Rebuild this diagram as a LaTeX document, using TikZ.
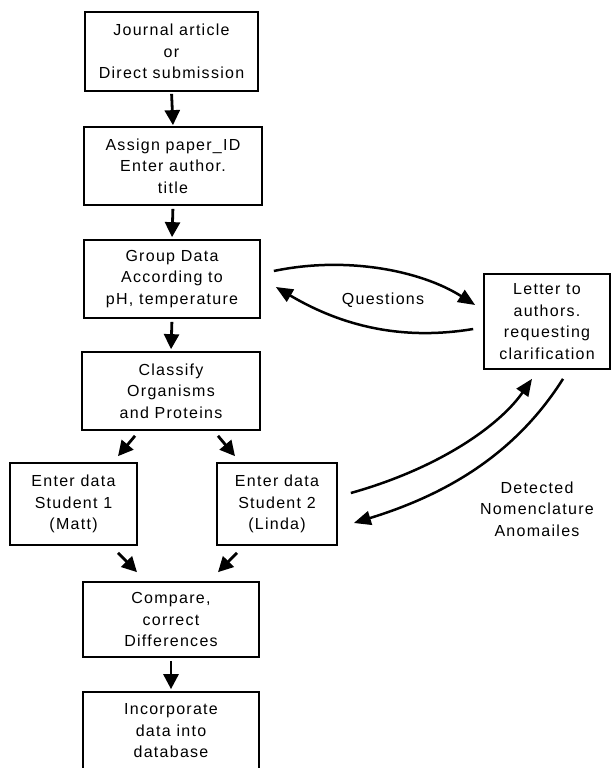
\documentclass[tikz,border=0pt]{standalone}
\usepackage{fontspec}
\setmainfont{Liberation Sans}[LetterSpace=8]
\usetikzlibrary{arrows.meta,calc}
\begin{document}
\begin{tikzpicture}[x=1pt,y=1pt,
  every node/.style={font=\fontsize{16}{21.5}\selectfont},
  box/.style={draw,line width=1.7pt,align=center,inner sep=0pt},
  arr/.style={line width=2.8pt,-{Triangle[length=15pt,width=15pt]}},
  carr/.style={line width=2.5pt,-{Triangle[length=17pt,width=14pt]}}]
\useasboundingbox (0,0) rectangle (611,-768);
\node[box,minimum width=173,minimum height=79] (j) at (171.5,-51.5) {Journal article\\or\\Direct submission};
\node[box,minimum width=178,minimum height=78] (a) at (173,-166) {Assign paper\_ID\\Enter author.\\title};
\node[box,minimum width=176,minimum height=78] (g) at (172,-279) {Group Data\\According to\\pH, temperature};
\node[box,minimum width=178,minimum height=78] (c) at (171,-391) {Classify\\Organisms\\and Proteins};
\node[box,minimum width=127,minimum height=82] (s1) at (73.5,-504) {Enter data\\Student 1\\(Matt)};
\node[box,minimum width=120,minimum height=82] (s2) at (277,-504) {Enter data\\Student 2\\(Linda)};
\node[box,minimum width=176,minimum height=75] (cmp) at (171,-619.5) {Compare,\\correct\\Differences};
\node[box,minimum width=176,minimum height=78] (inc) at (171,-731) {Incorporate\\data into\\database};
\node[box,minimum width=126,minimum height=95] (let) at (547,-321.5) {Letter to\\authors.\\requesting\\clarification};
\node (q) at (383,-300) {Questions};
\node[align=center] (d) at (537,-509) {Detected\\Nomenclature\\Anomailes};
% vertical arrows
\draw[arr,shorten <=2pt,shorten >=1pt] (j.south) -- (a.north);
\draw[arr,shorten <=3pt,shorten >=2pt] (a.south) -- (g.north);
\draw[arr,shorten <=3pt,shorten >=2pt] (g.south) -- (c.north);
\draw[arr,shorten <=3pt,shorten >=2pt] (cmp.south) -- (inc.north);
% diagonal arrows
\draw[arr] ($(c.south)+(-36,-5)$) -- ($(s1.north)+(44.5,6)$);
\draw[arr] ($(c.south)+(47,-5)$) -- ($(s2.north)+(-42,6)$);
\draw[arr] ($(s1.south)+(44.5,-7)$) -- ($(cmp.north)+(-34,9)$);
\draw[arr] ($(s2.south)+(-40,-7)$) -- ($(cmp.north)+(47,9)$);
% questions loop
\draw[carr] ($(g.east)+(13,8)$) .. controls (345,-256) and (420,-270) .. ($(let.west)+(-8,16.5)$);
\draw[carr] ($(let.west)+(-10,-7.5)$) .. controls (395,-342) and (335,-322) .. ($(g.east)+(15,-8)$);
% nomenclature loop
\draw[carr] ($(s2.east)+(13,11)$) .. controls (440,-468) and (500,-425) .. ($(let.south)+(-15,-9)$);
\draw[carr] ($(let.south)+(16,-9)$) .. controls (515,-455) and (445,-495) .. ($(s2.east)+(16,-19)$);
\end{tikzpicture}
\end{document}
